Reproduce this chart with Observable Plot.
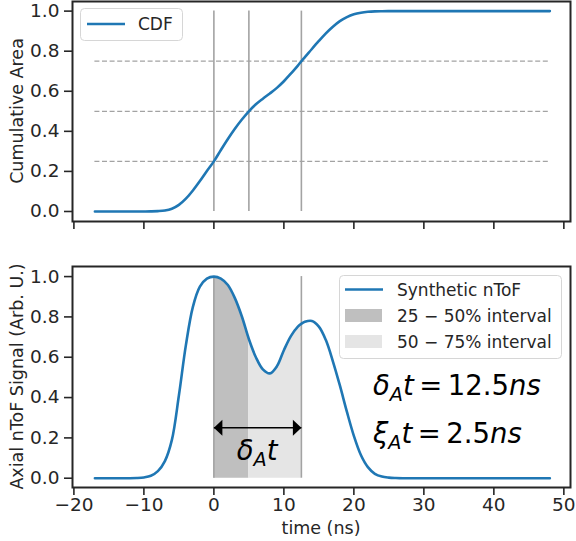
<!DOCTYPE html>
<html>
<head>
<meta charset="utf-8">
<script src="https://cdn.jsdelivr.net/npm/d3@7"></script>
<script src="https://cdn.jsdelivr.net/npm/@observablehq/plot@0.6"></script>
<style>
  body { margin: 0; background: #fff; }
  #wrap { position: relative; width: 576px; height: 541px; font-family: "DejaVu Sans", sans-serif; overflow: hidden; }
  #wrap > svg { position: absolute; left: 0; overflow: visible; }
</style>
</head>
<body>
<div id="wrap"></div>
<script>
// ---------------- data ----------------
const timeNs = [-17,-16,-15,-14,-13,-12,-11,-10,-9,-8,-7,-6,-5,-4,-3,-2,-1,0,1,2,3,4,5,6,7,8,9,10,11,12,12.5,13,14,15,16,17,18,19,20,21,22,23,24,25,26,27,28,30,32,34,36,38,40,42,44,46,48];
const nTofSignal = [0,0,0,0,0,0,0.001,0.004,0.012,0.035,0.085,0.19,0.41,0.66,0.85,0.95,0.99,1.0,0.99,0.958,0.893,0.802,0.69,0.6,0.54,0.52,0.555,0.635,0.705,0.752,0.766,0.776,0.78,0.752,0.685,0.58,0.46,0.33,0.21,0.115,0.055,0.022,0.008,0.003,0.001,0,0,0,0,0,0,0,0,0,0,0,0];
const cdfValues = [0,0,0,0,0,0,0,0.0002,0.0006,0.0018,0.005,0.014,0.033,0.064,0.105,0.152,0.202,0.25,0.307,0.362,0.413,0.459,0.5,0.535,0.563,0.589,0.617,0.65,0.688,0.728,0.75,0.77,0.811,0.851,0.889,0.922,0.95,0.97,0.984,0.992,0.9966,0.9988,0.9996,0.9999,1,1,1,1,1,1,1,1,1,1,1,1,1];
const quartileLevels = [0.25, 0.5, 0.75];
const splitTimes = [0, 5, 12.5];          // 25%, 50%, 75% crossing times
const xTicks = [-20,-10,0,10,20,30,40,50];
const yTicks = [0,0.2,0.4,0.6,0.8,1.0];
const arrowLevel = 0.25;
const annotX = 22.8;
const annotY = [0.41, 0.172];
const labels = {
  topY: "Cumulative Area",
  botY: "Axial nToF Signal (Arb. U.)",
  x: "time (ns)",
  cdf: "CDF",
  sig: "Synthetic nToF",
  int1: "25 \u2212 50% interval",
  int2: "50 \u2212 75% interval"
};

// ---------------- derived tables ----------------
const sigRows = timeNs.map((t, i) => ({t, v: nTofSignal[i]}));
const cdfRows = timeNs.map((t, i) => ({t, v: cdfValues[i]}));
const t0 = splitTimes[0], t1 = splitTimes[1], t2 = splitTimes[2];
const band1 = sigRows.filter(d => d.t >= t0 && d.t <= t1);
const band2 = sigRows.filter(d => d.t >= t1 && d.t <= t2);
const tMin = d3.min(timeNs), tMax = d3.max(timeNs);

const BLUE = "#1f77b4", GRAYLINE = "#a3a3a3", DARK = "#bfbfbf", LIGHT = "#e5e5e5", INK = "#262626";
const xDomain = [-20.2, 50.95];
const W = 576;
const wrap = document.getElementById("wrap");
const baseStyle = {fontFamily: "DejaVu Sans", fontSize: "18.5px", color: INK, background: "transparent", overflow: "visible"};

// arrow-head symbol, tip at the origin pointing right
const headSymbol = {draw(ctx) { ctx.moveTo(0, 0); ctx.lineTo(-8.5, -8); ctx.lineTo(-8.5, 8); ctx.closePath(); }};

// ---------------- top panel ----------------
const topPlot = Plot.plot({
  width: W, height: 242,
  marginLeft: 72, marginRight: 6, marginTop: 1, marginBottom: 21,
  x: {domain: xDomain, label: null},
  y: {domain: [-0.05, 1.048], label: null},
  style: baseStyle,
  marks: [
    Plot.ruleY(quartileLevels, {x1: tMin, x2: tMax, stroke: GRAYLINE, strokeWidth: 1.3, strokeDasharray: "5,2.6"}),
    Plot.ruleX(splitTimes, {y1: 0, y2: 1, stroke: GRAYLINE, strokeWidth: 1.6}),
    Plot.line(cdfRows, {x: "t", y: "v", stroke: BLUE, strokeWidth: 2.6, curve: "monotone-x"}),
    Plot.frame({stroke: INK, strokeWidth: 2}),
    Plot.axisX({ticks: xTicks, tickSize: 8, tickFormat: () => "", strokeWidth: 1.6, stroke: INK, label: null}),
    Plot.axisY({ticks: yTicks, tickSize: 8, tickPadding: 5, tickFormat: d3.format(".1f"), strokeWidth: 1.6, stroke: INK, fill: INK, label: null})
  ]
});
topPlot.style.top = "0px";
wrap.appendChild(topPlot);

// ---------------- bottom panel ----------------
const arrowHeads = [{t: t0, rot: 180}, {t: t2, rot: 0}];
const botPlot = Plot.plot({
  width: W, height: 291,
  marginLeft: 72, marginRight: 6, marginTop: 16, marginBottom: 54,
  x: {domain: xDomain, label: null},
  y: {domain: [-0.046, 1.05], label: null},
  style: baseStyle,
  marks: [
    Plot.areaY(band1, {x: "t", y: "v", fill: DARK, curve: "catmull-rom"}),
    Plot.areaY(band2, {x: "t", y: "v", fill: LIGHT, curve: "catmull-rom"}),
    Plot.ruleX([t0, t2], {y1: 0, y2: 1, stroke: GRAYLINE, strokeWidth: 1.6}),
    Plot.line(sigRows, {x: "t", y: "v", stroke: BLUE, strokeWidth: 2.6, curve: "catmull-rom"}),
    Plot.link([arrowLevel], {x1: t0, x2: t2, y1: d => d, y2: d => d, stroke: "#000", strokeWidth: 1.5}),
    Plot.dot(arrowHeads, {x: "t", y: () => arrowLevel, symbol: headSymbol, rotate: "rot", fill: "#000", stroke: "none", r: 5}),
    Plot.frame({stroke: INK, strokeWidth: 2}),
    Plot.axisX({ticks: xTicks, tickSize: 8, tickPadding: 2, tickFormat: d3.format("d"), strokeWidth: 1.6, stroke: INK, fill: INK, label: null}),
    Plot.axisY({ticks: yTicks, tickSize: 8, tickPadding: 5, tickFormat: d3.format(".1f"), strokeWidth: 1.6, stroke: INK, fill: INK, label: null})
  ]
});
const BOT_TOP = 250;
botPlot.style.top = BOT_TOP + "px";
wrap.appendChild(botPlot);

// ---------------- math annotations ----------------
function mathText(svg, px, py, parts, size, anchor) {
  const t = d3.select(svg).append("text")
    .attr("x", px).attr("y", py)
    .attr("font-family", "DejaVu Sans").attr("font-size", size)
    .attr("fill", "#000").attr("text-anchor", anchor || "start");
  let prevSub = false;
  const shift = size * 0.22;
  parts.forEach(([s, kind]) => {
    const ts = t.append("tspan").text(s);
    if (kind === "i" || kind === "sub") ts.attr("font-style", "italic");
    if (kind === "sub") { ts.attr("font-size", size * 0.7).attr("dy", shift); prevSub = true; }
    else if (prevSub) { ts.attr("dy", -shift); prevSub = false; }
  });
}
const xs = botPlot.scale("x"), ys = botPlot.scale("y");
const MATH = 27.5;
mathText(botPlot, xs.apply((t0 + t2) / 2), ys.apply(0.088), [["\u03b4", "i"], ["A", "sub"], ["t", "i"]], MATH, "middle");
mathText(botPlot, xs.apply(annotX), ys.apply(annotY[0]),
  [["\u03b4", "i"], ["A", "sub"], ["t", "i"], ["\u2009=\u200912.5", ""], ["ns", "i"]], MATH);
mathText(botPlot, xs.apply(annotX), ys.apply(annotY[1]),
  [["\u03be", "i"], ["A", "sub"], ["t", "i"], ["\u2009=\u20092.5", ""], ["ns", "i"]], MATH);

// ---------------- axis titles ----------------
function addLabel(svg, x, y, text, rotate) {
  d3.select(svg).append("text")
    .attr("transform", `translate(${x},${y})` + (rotate ? " rotate(-90)" : ""))
    .attr("text-anchor", "middle")
    .attr("font-family", "DejaVu Sans").attr("font-size", 17.5).attr("fill", INK)
    .text(text);
}
addLabel(topPlot, 23, 111, labels.topY, true);
addLabel(botPlot, 23, 126.5, labels.botY, true);
addLabel(botPlot, 321, 284, labels.x, false);

// ---------------- legends (overlay) ----------------
function legend(x, y, w, h, items) {
  const s = d3.select(wrap).append("svg")
    .attr("width", w).attr("height", h)
    .style("position", "absolute").style("left", x + "px").style("top", y + "px");
  s.append("rect").attr("x", 0.5).attr("y", 0.5).attr("width", w - 1).attr("height", h - 1)
    .attr("rx", 4).attr("fill", "rgba(255,255,255,0.85)").attr("stroke", "#d6d6d6");
  items.forEach(it => {
    if (it.kind === "line") {
      s.append("line").attr("x1", it.sx).attr("x2", it.sx + 38).attr("y1", it.cy).attr("y2", it.cy)
        .attr("stroke", it.color).attr("stroke-width", 2.6);
    } else {
      s.append("rect").attr("x", it.sx).attr("y", it.cy - 6.5).attr("width", 37).attr("height", 13)
        .attr("fill", it.color);
    }
    s.append("text").attr("x", it.tx).attr("y", it.cy + 6.3)
      .attr("font-family", "DejaVu Sans").attr("font-size", 17).attr("fill", INK).text(it.label);
  });
}
legend(80, 8, 103, 33, [{kind: "line", color: BLUE, sx: 7, cy: 16, tx: 58, label: labels.cdf}]);
legend(339, 275, 223, 84, [
  {kind: "line", color: BLUE, sx: 6, cy: 14.5, tx: 58, label: labels.sig},
  {kind: "rect", color: DARK, sx: 6, cy: 40.5, tx: 58, label: labels.int1},
  {kind: "rect", color: LIGHT, sx: 6, cy: 66.5, tx: 58, label: labels.int2}
]);
</script>
</body>
</html>
